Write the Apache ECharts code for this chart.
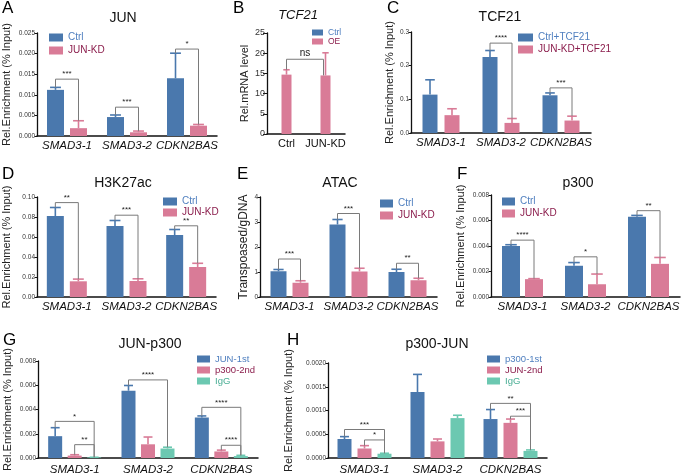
<!DOCTYPE html>
<html>
<head>
<meta charset="utf-8">
<script src="https://cdn.jsdelivr.net/npm/echarts@6/dist/echarts.min.js"></script>
<style>
  html, body { margin: 0; padding: 0; background: #fff; }
  #chart-container { width: 685px; height: 476px; }
</style>
</head>
<body>
<div id="chart-container"></div>
<script>
// categories
const genes = ["SMAD3-1", "SMAD3-2", "CDKN2BAS"];
const bCats = ["Ctrl", "JUN-KD"];

// significance brackets: [category from, series from, category to, series to, bracket level, label]

// A  JUN ChIP
const aCtrl = [0.0112, 0.0046, 0.0140];
const aCtrlErr = [0.0006, 0.0005, 0.0061];
const aKD = [0.0019, 0.0009, 0.0025];
const aKDErr = [0.0018, 0.0003, 0.0003];
const sigA = [[0, 0, 0, 1, 0.0138, "***"], [1, 0, 1, 1, 0.0070, "***"], [2, 0, 2, 1, 0.0211, "*"]];

// B  TCF21 mRNA
const bCtrl = [null, null];
const bCtrlErr = [null, null];
const bOE = [14.7, 14.5];
const bOEErr = [1.2, 5.6];
const sigB = [[0, 1, 1, 1, 18.5, "ns"]];

// C  TCF21 ChIP
const cCtrl = [0.114, 0.226, 0.112];
const cCtrlErr = [0.044, 0.019, 0.007];
const cKD = [0.053, 0.030, 0.037];
const cKDErr = [0.019, 0.013, 0.013];
const sigC = [[1, 0, 1, 1, 0.267, "****"], [2, 0, 2, 1, 0.134, "***"]];

// D  H3K27ac
const dCtrl = [0.081, 0.071, 0.062];
const dCtrlErr = [0.0085, 0.0055, 0.0055];
const dKD = [0.0157, 0.016, 0.030];
const dKDErr = [0.0022, 0.0022, 0.0037];
const sigD = [[0, 0, 0, 1, 0.0944, "**"], [1, 0, 1, 1, 0.0818, "***"], [2, 0, 2, 1, 0.0712, "**"]];

// E  ATAC
const eCtrl = [1.03, 2.90, 1.00];
const eCtrlErr = [0.07, 0.20, 0.11];
const eKD = [0.57, 1.02, 0.67];
const eKDErr = [0.08, 0.13, 0.08];
const sigE = [[0, 0, 0, 1, 1.52, "***"], [1, 0, 1, 1, 3.34, "***"], [2, 0, 2, 1, 1.35, "**"]];

// F  p300
const fCtrl = [0.0040, 0.00245, 0.0063];
const fCtrlErr = [0.0001, 0.00025, 0.0001];
const fKD = [0.0014, 0.0010, 0.0026];
const fKDErr = [0.00004, 0.0008, 0.0005];
const sigF = [[0, 0, 0, 1, 0.00446, "****"], [1, 0, 1, 1, 0.00315, "*"], [2, 0, 2, 1, 0.00677, "**"]];

// G  JUN-p300 re-ChIP
const gJUN = [0.0018, 0.00555, 0.00334];
const gJUNErr = [0.0007, 0.00043, 0.00013];
const gP300 = [0.0002, 0.00113, 0.00054];
const gP300Err = [0.00007, 0.0006, 0.00011];
const gIgG = [0.00005, 0.00078, 0.00016];
const gIgGErr = [0.00001, 0.00011, 0.00006];
const sigG = [[0, 0, 0, 2, 0.00302, "*"], [0, 1, 0, 2, 0.0011, "**"], [1, 0, 1, 2, 0.00644, "****"],
  [2, 0, 2, 2, 0.00418, "****"], [2, 1, 2, 2, 0.00105, "****"]];

// H  p300-JUN re-ChIP
const hP300 = [0.0004, 0.00139, 0.00082];
const hP300Err = [0.00005, 0.00037, 0.0002];
const hJUN = [0.0002, 0.00035, 0.00074];
const hJUNErr = [0.00006, 0.00005, 0.00008];
const hIgG = [0.00009, 0.00084, 0.00015];
const hIgGErr = [0.00001, 0.00006, 0.00002];
const sigH = [[0, 0, 0, 2, 0.0006, "***"], [0, 1, 0, 2, 0.00038, "*"], [2, 0, 2, 2, 0.00115, "**"],
  [2, 1, 2, 2, 0.00088, "***"]];

const blue = "#4a78ad", pink = "#d97b97", teal = "#6cc8b1";
const blueTxt = "#4f7fbf", redTxt = "#8b1d4c", tealTxt = "#47ad93";
const FONT = "Liberation Sans, Arial, sans-serif";
const enrich = "Rel.Enrichment (% Input)";

const panels = [
  { letter: "A", lx: 2, ly: 0, title: "JUN", tx: 123, ty: 11, cats: genes,
    grid: { left: 33, top: 33, width: 184, height: 103 }, max: 0.025, step: 0.005, dec: 3,
    bw: 17, pitch: 23, yName: enrich, nameGap: 25,
    legend: { left: 49, top: 32, lh: 11, gap: 2, iw: 14, ih: 8, fs: 10 },
    series: [["Ctrl", aCtrl, aCtrlErr, blue, blueTxt], ["JUN-KD", aKD, aKDErr, pink, redTxt]], sigs: sigA },
  { letter: "B", lx: 233, ly: 0, title: "TCF21", titleItalic: true, tx: 298, ty: 9, cats: bCats, upright: true,
    grid: { left: 267, top: 33, width: 78, height: 101 }, max: 25, step: 5, dec: 0, tickFs: 9, tickLen: 4,
    bw: 10, pitch: 0, yName: "Rel.mRNA level", nameGap: 17,
    legend: { left: 312, top: 28, lh: 8, gap: 0, iw: 11, ih: 6, fs: 8.5 },
    series: [["Ctrl", bCtrl, bCtrlErr, blue, blueTxt], ["OE", bOE, bOEErr, pink, redTxt]], sigs: sigB },
  { letter: "C", lx: 387, ly: 0, title: "TCF21", tx: 500, ty: 10, cats: genes,
    grid: { left: 411, top: 32, width: 180, height: 101 }, max: 0.3, step: 0.1, dec: 1,
    bw: 15, pitch: 22, yName: enrich, nameGap: 16,
    legend: { left: 518, top: 32, lh: 11, gap: 1, iw: 15, ih: 8, fs: 10 },
    series: [["Ctrl+TCF21", cCtrl, cCtrlErr, blue, blueTxt], ["JUN-KD+TCF21", cKD, cKDErr, pink, redTxt]], sigs: sigC },
  { letter: "D", lx: 2, ly: 166, title: "H3K27ac", tx: 123, ty: 176, cats: genes,
    grid: { left: 33, top: 197, width: 183, height: 100 }, max: 0.1, step: 0.02, dec: 2,
    bw: 17, pitch: 23, yName: enrich, nameGap: 25,
    legend: { left: 163, top: 196, lh: 11, gap: 0, iw: 14, ih: 8, fs: 10 },
    series: [["Ctrl", dCtrl, dCtrlErr, blue, blueTxt], ["JUN-KD", dKD, dKDErr, pink, redTxt]], sigs: sigD },
  { letter: "E", lx: 237, ly: 166, title: "ATAC", tx: 340, ty: 176, cats: genes,
    grid: { left: 260, top: 197, width: 177, height: 100 }, max: 4, step: 1, dec: 0,
    bw: 16, pitch: 22, yName: "Transpoased/gDNA", nameFs: 12, nameGap: 10,
    legend: { left: 380, top: 198, lh: 11, gap: 1, iw: 13, ih: 8, fs: 10 },
    series: [["Ctrl", eCtrl, eCtrlErr, blue, blueTxt], ["JUN-KD", eKD, eKDErr, pink, redTxt]], sigs: sigE },
  { letter: "F", lx: 457, ly: 166, title: "p300", tx: 578, ty: 176, cats: genes,
    grid: { left: 491, top: 195, width: 189, height: 102 }, max: 0.008, step: 0.002, dec: 3,
    bw: 18, pitch: 23, yName: enrich, nameGap: 25,
    legend: { left: 502, top: 196, lh: 11, gap: 1, iw: 13, ih: 8, fs: 10 },
    series: [["Ctrl", fCtrl, fCtrlErr, blue, blueTxt], ["JUN-KD", fKD, fKDErr, pink, redTxt]], sigs: sigF },
  { letter: "G", lx: 3, ly: 332, title: "JUN-p300", tx: 150, ty: 337, cats: genes, labelMargin: 6,
    grid: { left: 38, top: 361, width: 220, height: 99 }, max: 0.008, step: 0.002, dec: 3,
    bw: 14, pitch: 19.5, yName: enrich, nameGap: 25,
    legend: { left: 197, top: 354, lh: 10, gap: 1, iw: 13, ih: 7, fs: 9.5 },
    series: [["JUN-1st", gJUN, gJUNErr, blue, blueTxt], ["p300-2nd", gP300, gP300Err, pink, redTxt],
      ["IgG", gIgG, gIgGErr, teal, tealTxt]], sigs: sigG },
  { letter: "H", lx: 287, ly: 332, title: "p300-JUN", tx: 437, ty: 337, cats: genes, labelMargin: 6,
    grid: { left: 328, top: 363, width: 219, height: 96 }, max: 0.002, step: 0.0005, dec: 4,
    bw: 14, pitch: 20, yName: enrich, nameGap: 34,
    legend: { left: 487, top: 354, lh: 10, gap: 1, iw: 13, ih: 7, fs: 9.5 },
    series: [["p300-1st", hP300, hP300Err, blue, blueTxt], ["JUN-2nd", hJUN, hJUNErr, pink, redTxt],
      ["IgG", hIgG, hIgGErr, teal, tealTxt]], sigs: sigH }
];

const grids = [], xAxes = [], yAxes = [], series = [], legends = [], graphics = [];

const offsetOf = (p, s) => (s - (p.series.length - 1) / 2) * p.pitch;

panels.forEach((p, i) => {
  grids.push(Object.assign({ containLabel: false }, p.grid));
  xAxes.push({
    gridIndex: i, type: "category", data: p.cats,
    axisLine: { lineStyle: { color: "#111", width: 1.5 } },
    axisTick: { alignWithLabel: true, length: 3, lineStyle: { color: "#111" } },
    axisLabel: { interval: 0, color: "#111", fontFamily: FONT, fontSize: p.upright ? 11 : 11.5,
      fontStyle: p.upright ? "normal" : "italic", margin: p.labelMargin || 4 }
  });
  yAxes.push({
    gridIndex: i, type: "value", min: 0, max: p.max, interval: p.step,
    axisLine: { show: true, lineStyle: { color: "#111", width: 1.3 } },
    axisTick: { show: true, length: p.tickLen || 2.5, lineStyle: { color: "#111" } },
    splitLine: { show: false },
    axisLabel: { fontSize: p.tickFs || 6.5, color: "#333", fontFamily: FONT, margin: 2,
      formatter: v => v.toFixed(p.dec) },
    name: p.yName, nameLocation: "middle", nameRotate: 90, nameGap: p.nameGap,
    nameTextStyle: { fontSize: p.nameFs || 11, color: "#222", fontFamily: FONT }
  });

  const gapPct = p.pitch === 0 ? "-100%" : ((p.pitch - p.bw) / p.bw * 100) + "%";
  p.series.forEach(s => {
    series.push({
      type: "bar", name: s[0], xAxisIndex: i, yAxisIndex: i, data: s[1],
      barWidth: p.bw, barGap: gapPct, itemStyle: { color: s[3] }, silent: true
    });
  });

  // error bars (upper only, like the original)
  const errData = [];
  p.series.forEach((s, si) => {
    s[1].forEach((v, ci) => {
      if (v != null) errData.push([ci, si, v, v + s[2][ci]]);
    });
  });
  series.push({
    type: "custom", name: "err" + p.letter, xAxisIndex: i, yAxisIndex: i, data: errData,
    encode: { x: 0, y: 3 }, clip: false, silent: true, z: 3,
    renderItem: (params, api) => {
      const ci = api.value(0), si = api.value(1);
      const base = api.coord([ci, api.value(2)]);
      const top = api.coord([ci, api.value(3)]);
      const x = base[0] + offsetOf(p, si);
      const hw = p.bw * 0.32;
      const col = p.series[si][3];
      return { type: "group", children: [
        { type: "line", shape: { x1: x, y1: base[1], x2: x, y2: top[1] }, style: { stroke: col, lineWidth: 1.6 } },
        { type: "line", shape: { x1: x - hw, y1: top[1], x2: x + hw, y2: top[1] }, style: { stroke: col, lineWidth: 1.6 } }
      ] };
    }
  });

  // significance brackets
  series.push({
    type: "custom", name: "sig" + p.letter, xAxisIndex: i, yAxisIndex: i,
    data: p.sigs.map(s => [s[0], s[1], s[2], s[3], s[4]]),
    encode: { x: 0, y: 4 }, clip: false, silent: true, z: 4,
    renderItem: (params, api) => {
      const sg = p.sigs[params.dataIndex];
      const level = sg[4];
      const footOf = (ci, si) => {
        const v = p.series[si][1][ci], e = p.series[si][2][ci];
        if (v == null) return level;
        return v + e < level ? v + e : v;
      };
      const yl = api.coord([sg[0], level])[1];
      const cross = sg[0] !== sg[2];
      const xa = api.coord([sg[0], 0])[0] + offsetOf(p, sg[1]);
      const xb = api.coord([sg[2], 0])[0] + offsetOf(p, sg[3]) - (cross ? 2 : 0);
      const ya = api.coord([sg[0], footOf(sg[0], sg[1])])[1];
      const yb = api.coord([sg[2], footOf(sg[2], sg[3])])[1];
      return { type: "group", children: [
        { type: "polyline", shape: { points: [[xa, ya], [xa, yl], [xb, yl], [xb, yb]] },
          style: { stroke: "#7a7a7a", lineWidth: 1, fill: null } },
        { type: "text", style: { text: sg[5], x: (xa + xb) / 2, y: yl - 1,
          align: "center", textAlign: "center", verticalAlign: "bottom", textVerticalAlign: "bottom",
          fontSize: sg[5] === "ns" ? 10 : 8, fontFamily: FONT, fill: "#222" } }
      ] };
    }
  });

  legends.push({
    orient: "vertical", left: p.legend.left, top: p.legend.top, padding: 0,
    itemWidth: p.legend.iw, itemHeight: p.legend.ih, itemGap: p.legend.gap, icon: "rect",
    selectedMode: false,
    textStyle: { fontSize: p.legend.fs, fontFamily: FONT, lineHeight: p.legend.lh, padding: [0, 0, 0, 0] },
    data: p.series.map(s => ({ name: s[0], itemStyle: { color: s[3] }, textStyle: { color: s[4] } }))
  });

  graphics.push({ type: "text", x: p.lx, y: p.ly,
    style: { text: p.letter, fontSize: 17, fontFamily: FONT, fill: "#000" } });
  graphics.push({ type: "text", x: p.tx, y: p.ty,
    style: { text: p.title, fontSize: p.titleItalic ? 13 : 14, fontStyle: p.titleItalic ? "italic" : "normal",
      fontFamily: FONT, fill: "#111", align: "center", textAlign: "center",
      verticalAlign: "top", textVerticalAlign: "top" } });
});

var dom = document.getElementById("chart-container");
var myChart = echarts.init(dom, null, { renderer: "canvas" });

var option = {
  backgroundColor: "#fff",
  animation: false,
  textStyle: { fontFamily: FONT },
  grid: grids,
  xAxis: xAxes,
  yAxis: yAxes,
  legend: legends,
  series: series,
  graphic: graphics
};
myChart.setOption(option);
window.addEventListener("resize", myChart.resize);
</script>
</body>
</html>
